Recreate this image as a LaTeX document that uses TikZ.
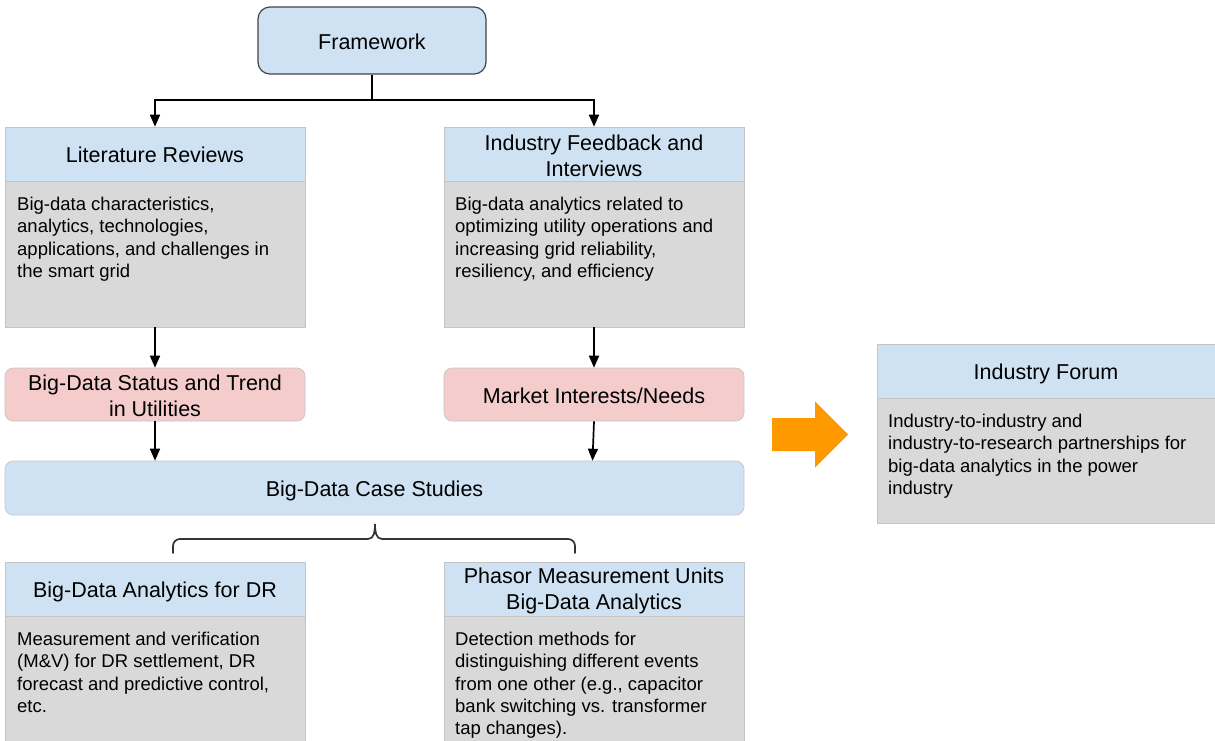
\documentclass[tikz,border=0pt]{standalone}
\usepackage{fontspec}
\setmainfont{Liberation Sans}
\usetikzlibrary{arrows.meta,calc}
\definecolor{hdrblue}{HTML}{CFE2F3}
\definecolor{bodygray}{HTML}{D9D9D9}
\definecolor{pinkfill}{HTML}{F4CCCC}
\definecolor{orangefill}{HTML}{FF9900}
\definecolor{edgegray}{HTML}{C4C4C4}
\definecolor{fwedge}{HTML}{434343}
\definecolor{bracecol}{HTML}{333333}
\newcommand{\hdrfont}{\fontsize{21.5}{26}\selectfont}
\newcommand{\bodyfont}{\fontsize{18.5}{22.4}\selectfont}
\begin{document}
\begin{tikzpicture}[x=1pt,y=-1pt,
  hdr/.style={draw=edgegray, line width=0.6pt, fill=hdrblue, minimum width=300, minimum height=54, inner sep=0, align=center, font=\hdrfont},
  oneline/.style={text height=17.6pt, text depth=0pt},
  bodybox/.style={draw=edgegray, line width=0.6pt, fill=bodygray, minimum width=300, inner sep=0},
  bodytext/.style={anchor=north west, inner sep=0, align=left, font=\bodyfont},
  pinkbox/.style={draw=edgegray, line width=0.6pt, fill=pinkfill, rounded corners=8, minimum width=300, minimum height=53, inner sep=0, align=center, font=\hdrfont},
  arr/.style={line width=1.7pt, -{Triangle[width=10pt,length=12pt]}},
  plainline/.style={line width=1.7pt},
  bracepath/.style={line width=1.7pt, draw=bracecol, line cap=round}
]
\useasboundingbox (0,0) rectangle (1215,740);
\fill[white] (0,0) rectangle (1215,740);

% Framework
\node[draw=fwedge, line width=1.2pt, fill=hdrblue, rounded corners=12, minimum width=228, minimum height=67, inner sep=0, font=\hdrfont, oneline] (fw) at (372,40.5) {Framework};

% Literature Reviews
\node[hdr, oneline] (lithdr) at (155,154) {Literature Reviews};
\node[bodybox, minimum height=146] (litbody) at (155,254) {};
\node[bodytext] (littext) at (17,196.7) {Big-data characteristics,\\analytics, technologies,\\applications, and challenges in\\the smart grid};

% Industry Feedback
\node[hdr] (indhdr) at (594,154) {};
\node[font=\hdrfont, align=center, inner sep=0] (indlabel) at (594,156) {Industry Feedback and\\Interviews};
\node[bodybox, minimum height=146] (indbody) at (594,254) {};
\node[bodytext] (indtext) at (455,196.7) {Big-data analytics related to\\optimizing utility operations and\\increasing grid reliability,\\resiliency, and efficiency};

% Pink boxes
\node[pinkbox] (status) at (155,394.5) {};
\node[font=\hdrfont, align=center, inner sep=0] (statuslabel) at (155,396) {Big-Data Status and Trend\\in Utilities};
\node[pinkbox, oneline] (mkt) at (594,394.5) {Market Interests/Needs};

% Case studies
\node[draw=edgegray, line width=0.6pt, fill=hdrblue, rounded corners=8, minimum width=739, minimum height=54, inner sep=0, font=\hdrfont, oneline] (case) at (374.5,488) {Big-Data Case Studies};

% DR
\node[hdr, oneline] (drhdr) at (155,589) {Big-Data Analytics for DR};
\node[bodybox, minimum height=128] (drbody) at (155,680) {};
\node[bodytext] (drtext) at (17,631.7) {Measurement and verification\\(M\&V) for DR settlement, DR\\forecast and predictive control,\\etc.};

% PMU
\node[hdr] (pmuhdr) at (594,589) {};
\node[font=\hdrfont, align=center, inner sep=0] (pmulabel) at (594,591) {Phasor Measurement Units\\Big-Data Analytics};
\node[bodybox, minimum height=128] (pmubody) at (594,680) {};
\node[bodytext] (pmutext) at (455,631.7) {Detection methods for\\distinguishing different events\\from one other (e.g., capacitor\\bank switching vs. transformer\\tap changes).};

% Industry Forum
\node[hdr, oneline, minimum width=338] (forumhdr) at (1046,371) {Industry Forum};
\node[bodybox, minimum width=338, minimum height=125] (forumbody) at (1046,460.5) {};
\node[bodytext] (forumtext) at (888,413.7) {Industry-to-industry and\\industry-to-research partnerships for\\big-data analytics in the power\\industry};

% Orange arrow
\fill[orangefill] (772,418) -- (815,418) -- (815,401.5) -- (848,434.5) -- (815,467.5) -- (815,451) -- (772,451) -- cycle;

% Connectors
\coordinate (split) at (372,100);
\draw[plainline] (fw.south) -- (split);
\draw[arr] (split) -| (lithdr.north);
\draw[arr] (split) -| (indhdr.north);
\draw[arr] (litbody.south) -- (status.north);
\draw[arr] (indbody.south) -- (mkt.north);
\draw[arr] (status.south) -- (status.south |- case.north);
\draw[arr] (mkt.south) -- ([xshift=-1.5pt]mkt.south |- case.north);

% Brace
\coordinate (braceL) at (173,553);
\coordinate (braceR) at (575,553);
\coordinate (braceTip) at (375,524);
\draw[bracepath] (braceL) -- (173,546) to[out=90,in=180] (180,539) -- (368,539) to[out=0,in=-90] (braceTip) to[out=-90,in=180] (382,539) -- (568,539) to[out=0,in=90] (575,546) -- (braceR);
\end{tikzpicture}
\end{document}
